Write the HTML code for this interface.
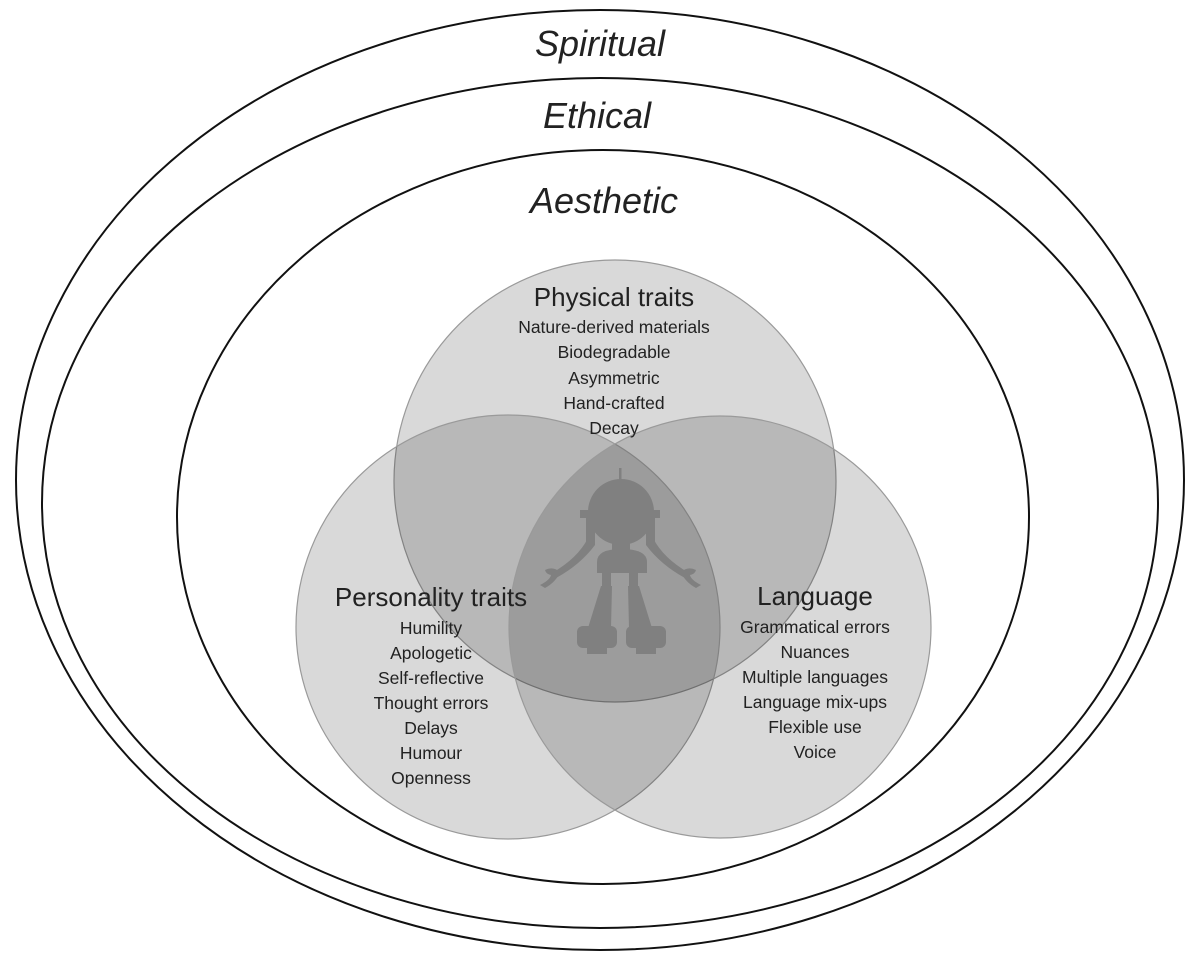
<!DOCTYPE html>
<html><head><meta charset="utf-8"><style>
html,body{margin:0;padding:0;background:#fff;}
svg{display:block;}
text{font-family:"Liberation Sans",sans-serif;fill:#222;text-anchor:middle;}
.t{font-style:italic;font-size:36px;}
.h{font-size:26px;}
.l{font-size:17.5px;}
</style></head><body>
<svg width="1200" height="958" viewBox="0 0 1200 958" xmlns="http://www.w3.org/2000/svg">
<ellipse cx="600" cy="480" rx="584" ry="470" fill="none" stroke="#111" stroke-width="2"/>
<ellipse cx="600" cy="503" rx="558" ry="425" fill="none" stroke="#111" stroke-width="2"/>
<ellipse cx="603" cy="517" rx="426" ry="367" fill="none" stroke="#111" stroke-width="2"/>
<text class="t" x="600" y="56">Spiritual</text>
<text class="t" x="597" y="128">Ethical</text>
<text class="t" x="604" y="213">Aesthetic</text>
<g fill="#000" fill-opacity="0.15" stroke="#9a9a9a" stroke-width="1.2">
<circle cx="615" cy="481" r="221"/>
<circle cx="508" cy="627" r="212"/>
<circle cx="720" cy="627" r="211"/>
</g>
<!-- robot -->
<g fill="#808080">
<rect x="619" y="468" width="2.5" height="14"/>
<circle cx="621" cy="512" r="33"/>
<rect x="580" y="510" width="80" height="8"/>
<rect x="586" y="517" width="9" height="26"/>
<rect x="646" y="517" width="9" height="26"/>
<rect x="612" y="540" width="18" height="12"/>
<path d="M597 573 L597 562 Q597 549 621 549 Q647 549 647 562 L647 573 Z"/>
<path d="M588 538 L595 538 L595 545 Q580 565 556 578 L552 573 Q578 558 588 538 Z"/>
<path d="M545 570 Q553 566 560 572 Q556 582 545 588 L540 585 Q550 580 551 575 Q546 574 545 570 Z"/>
<path d="M653 538 L646 538 L646 545 Q661 565 685 578 L689 573 Q663 558 653 538 Z"/>
<path d="M696 570 Q688 566 681 572 Q685 582 696 588 L701 585 Q691 580 690 575 Q695 574 696 570 Z"/>
<rect x="602" y="572" width="9" height="16"/>
<rect x="629" y="572" width="9" height="16"/>
<path d="M601 586 L612 586 L611 628 L588 628 Z"/>
<path d="M628 586 L639 586 L652 628 L629 628 Z"/>
<rect x="577" y="626" width="40" height="22" rx="6"/>
<rect x="626" y="626" width="40" height="22" rx="6"/>
<rect x="587" y="644" width="20" height="10"/>
<rect x="636" y="644" width="20" height="10"/>
</g>
<text class="h" x="614" y="306">Physical traits</text>
<text class="l" x="614" y="333">Nature-derived materials</text>
<text class="l" x="614" y="358">Biodegradable</text>
<text class="l" x="614" y="384">Asymmetric</text>
<text class="l" x="614" y="409">Hand-crafted</text>
<text class="l" x="614" y="434">Decay</text>
<text class="h" x="431" y="606">Personality traits</text>
<text class="l" x="431" y="634">Humility</text>
<text class="l" x="431" y="659">Apologetic</text>
<text class="l" x="431" y="684">Self-reflective</text>
<text class="l" x="431" y="709">Thought errors</text>
<text class="l" x="431" y="734">Delays</text>
<text class="l" x="431" y="759">Humour</text>
<text class="l" x="431" y="784">Openness</text>
<text class="h" x="815" y="605">Language</text>
<text class="l" x="815" y="633">Grammatical errors</text>
<text class="l" x="815" y="658">Nuances</text>
<text class="l" x="815" y="683">Multiple languages</text>
<text class="l" x="815" y="708">Language mix-ups</text>
<text class="l" x="815" y="733">Flexible use</text>
<text class="l" x="815" y="758">Voice</text>
</svg>
</body></html>
